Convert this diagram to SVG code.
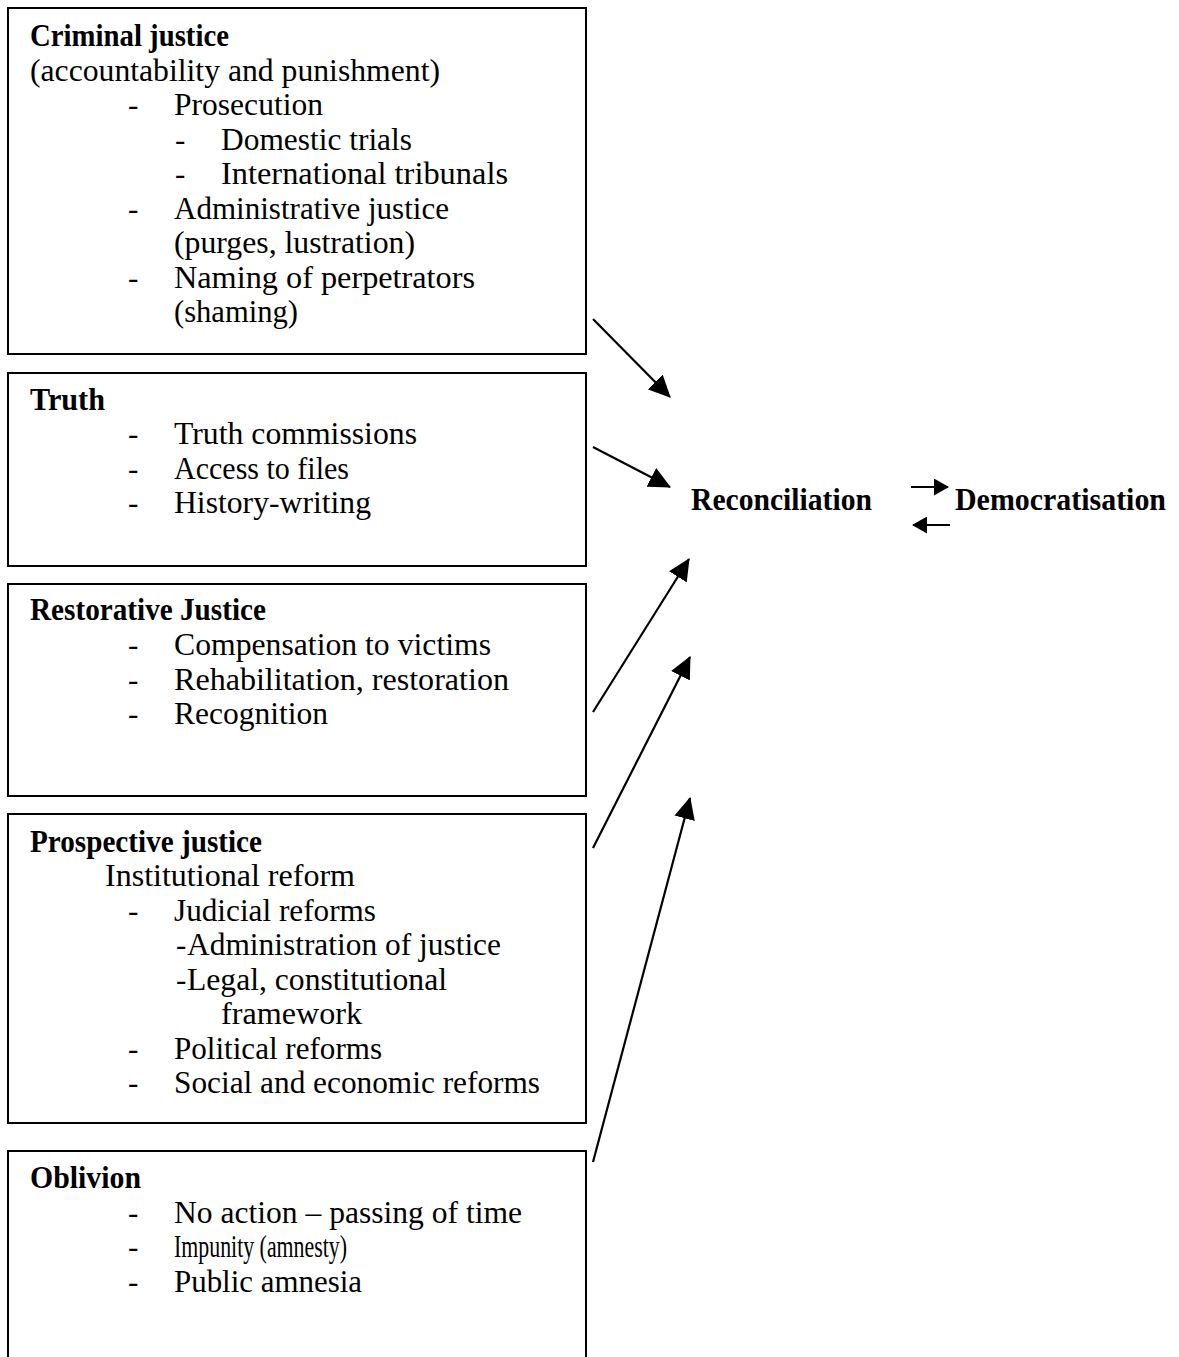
<svg xmlns="http://www.w3.org/2000/svg" width="1179" height="1357" viewBox="0 0 1179 1357">
<style>
.box{fill:#fff;stroke:#000;stroke-width:2}
text{font-family:"Liberation Serif","Times New Roman",serif;font-size:31px;fill:#000}
.b{font-weight:bold}
.c{stroke:#000;stroke-width:2.2;fill:none}
</style>
<defs>
<marker id="ah" markerUnits="userSpaceOnUse" markerWidth="22" markerHeight="21" refX="21" refY="10.5" orient="auto" viewBox="0 0 22 21">
<path d="M0,0 L22,10.5 L0,21 Z" fill="#000"/>
</marker>
<marker id="sh" markerUnits="userSpaceOnUse" markerWidth="15" markerHeight="17" refX="14" refY="8.5" orient="auto" viewBox="0 0 15 17">
<path d="M0,0 L15,8.5 L0,17 Z" fill="#000"/>
</marker>
</defs>
<rect width="1179" height="1357" fill="#fff"/>

<g id="criminal-justice">
<rect class="box" x="8" y="8" width="578" height="346"/>
<text class="b" x="30" y="46" textLength="199" lengthAdjust="spacingAndGlyphs">Criminal justice</text>
<text x="30" y="80.5" textLength="410" lengthAdjust="spacingAndGlyphs">(accountability and punishment)</text>
<text x="128" y="115">-</text><text x="174" y="115" textLength="149" lengthAdjust="spacingAndGlyphs">Prosecution</text>
<text x="175" y="149.5">-</text><text x="221" y="149.5" textLength="191" lengthAdjust="spacingAndGlyphs">Domestic trials</text>
<text x="175" y="184">-</text><text x="221" y="184" textLength="287" lengthAdjust="spacingAndGlyphs">International tribunals</text>
<text x="128" y="218.5">-</text><text x="174" y="218.5" textLength="275" lengthAdjust="spacingAndGlyphs">Administrative justice</text>
<text x="174" y="253" textLength="241" lengthAdjust="spacingAndGlyphs">(purges, lustration)</text>
<text x="128" y="287.5">-</text><text x="174" y="287.5" textLength="301" lengthAdjust="spacingAndGlyphs">Naming of perpetrators</text>
<text x="174" y="322" textLength="124" lengthAdjust="spacingAndGlyphs">(shaming)</text>
</g>

<g id="truth">
<rect class="box" x="8" y="373" width="578" height="193"/>
<text class="b" x="30" y="410" textLength="75" lengthAdjust="spacingAndGlyphs">Truth</text>
<text x="128" y="444">-</text><text x="174" y="444" textLength="243" lengthAdjust="spacingAndGlyphs">Truth commissions</text>
<text x="128" y="478.5">-</text><text x="174" y="478.5" textLength="175" lengthAdjust="spacingAndGlyphs">Access to files</text>
<text x="128" y="513">-</text><text x="174" y="513" textLength="197" lengthAdjust="spacingAndGlyphs">History-writing</text>
</g>

<g id="restorative-justice">
<rect class="box" x="8" y="584" width="578" height="212"/>
<text class="b" x="30" y="620" textLength="236" lengthAdjust="spacingAndGlyphs">Restorative Justice</text>
<text x="128" y="655">-</text><text x="174" y="655" textLength="317" lengthAdjust="spacingAndGlyphs">Compensation to victims</text>
<text x="128" y="689.5">-</text><text x="174" y="689.5" textLength="335" lengthAdjust="spacingAndGlyphs">Rehabilitation, restoration</text>
<text x="128" y="724">-</text><text x="174" y="724" textLength="154" lengthAdjust="spacingAndGlyphs">Recognition</text>
</g>

<g id="prospective-justice">
<rect class="box" x="8" y="814" width="578" height="309"/>
<text class="b" x="30" y="852" textLength="232" lengthAdjust="spacingAndGlyphs">Prospective justice</text>
<text x="105" y="886" textLength="250" lengthAdjust="spacingAndGlyphs">Institutional reform</text>
<text x="128" y="920.5">-</text><text x="174" y="920.5" textLength="202" lengthAdjust="spacingAndGlyphs">Judicial reforms</text>
<text x="176" y="955">-</text><text x="187" y="955" textLength="314" lengthAdjust="spacingAndGlyphs">Administration of justice</text>
<text x="176" y="989.5">-</text><text x="187" y="989.5" textLength="260" lengthAdjust="spacingAndGlyphs">Legal, constitutional</text>
<text x="221" y="1024" textLength="141" lengthAdjust="spacingAndGlyphs">framework</text>
<text x="128" y="1058.5">-</text><text x="174" y="1058.5" textLength="208" lengthAdjust="spacingAndGlyphs">Political reforms</text>
<text x="128" y="1093">-</text><text x="174" y="1093" textLength="366" lengthAdjust="spacingAndGlyphs">Social and economic reforms</text>
</g>

<g id="oblivion">
<rect class="box" x="8" y="1151" width="578" height="230"/>
<text class="b" x="30" y="1188" textLength="111" lengthAdjust="spacingAndGlyphs">Oblivion</text>
<text x="128" y="1222.5">-</text><text x="174" y="1222.5" textLength="348" lengthAdjust="spacingAndGlyphs">No action – passing of time</text>
<text x="128" y="1257">-</text><text x="174" y="1257" textLength="173" lengthAdjust="spacingAndGlyphs">Impunity (amnesty)</text>
<text x="128" y="1291.5">-</text><text x="174" y="1291.5" textLength="188" lengthAdjust="spacingAndGlyphs">Public amnesia</text>
</g>

<g id="reconciliation">
<text class="b" x="691" y="510" textLength="181" lengthAdjust="spacingAndGlyphs">Reconciliation</text>
</g>
<g id="democratisation">
<text class="b" x="955" y="510" textLength="211" lengthAdjust="spacingAndGlyphs">Democratisation</text>
</g>

<g id="connectors">
<line class="c" x1="593" y1="319" x2="670" y2="397" marker-end="url(#ah)"/>
<line class="c" x1="593" y1="447" x2="670" y2="487" marker-end="url(#ah)"/>
<line class="c" x1="593" y1="712" x2="689" y2="559" marker-end="url(#ah)"/>
<line class="c" x1="593" y1="848" x2="690" y2="657" marker-end="url(#ah)"/>
<line class="c" x1="593" y1="1162" x2="690" y2="798" marker-end="url(#ah)"/>
<line class="c" x1="911" y1="487" x2="948" y2="487" marker-end="url(#sh)"/>
<line class="c" x1="950" y1="525" x2="913" y2="525" marker-end="url(#sh)"/>
</g>
</svg>
